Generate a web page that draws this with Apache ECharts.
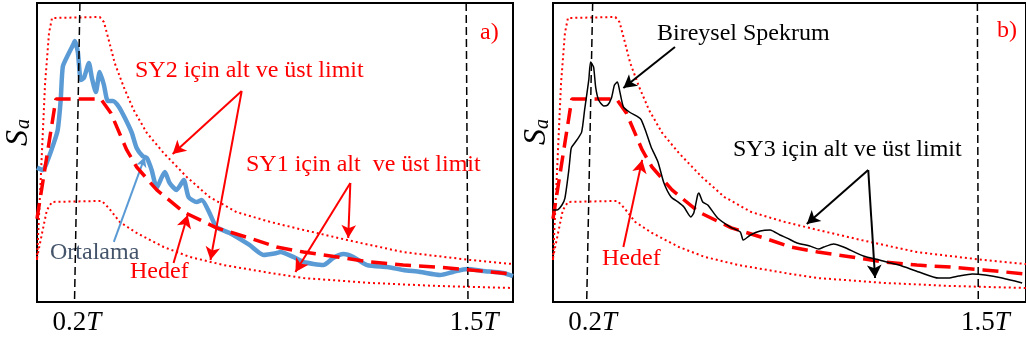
<!DOCTYPE html>
<html><head><meta charset="utf-8">
<script src="https://cdn.jsdelivr.net/npm/echarts@6/dist/echarts.min.js"></script>
<style>html,body{margin:0;padding:0;background:#fff}#c{width:1026px;height:342px}</style>
</head><body><div id="c"></div>
<script>
// Period axis in units of T, spectral acceleration normalised to the target plateau
const upperLimit = [[0.067,0.207],[0.094,1.079],[0.107,1.325],[0.117,1.399],[0.276,1.404],[0.290,1.379],[0.306,1.291],[0.326,1.177],[0.356,1.059],[0.389,0.946],[0.433,0.833],[0.489,0.734],[0.566,0.616],[0.642,0.517],[0.732,0.443],[0.845,0.394],[0.955,0.355],[1.101,0.305],[1.287,0.246],[1.510,0.207],[1.653,0.187]];
const lowerLimit = [[0.067,0.217],[0.084,0.340],[0.100,0.453],[0.117,0.493],[0.283,0.498],[0.306,0.463],[0.343,0.394],[0.399,0.340],[0.489,0.271],[0.576,0.222],[0.689,0.182],[0.865,0.138],[0.955,0.118],[1.177,0.094],[1.400,0.079],[1.653,0.069]];
const target = [[0.067,0.410],[0.130,1.0],[0.280,1.0],[0.313,0.931],[0.366,0.749],[0.399,0.665],[0.466,0.552],[0.556,0.443],[0.665,0.365],[0.775,0.315],[0.865,0.271],[0.955,0.246],[1.068,0.222],[1.177,0.197],[1.287,0.182],[1.400,0.172],[1.510,0.158],[1.653,0.138]];
const meanSpectrum = [[0.067,0.662],[0.087,0.650],[0.103,0.700],[0.123,0.783],[0.136,0.847],[0.146,0.995],[0.153,1.160],[0.170,1.217],[0.187,1.266],[0.193,1.286],[0.203,1.232],[0.213,1.094],[0.223,1.103],[0.240,1.177],[0.250,1.103],[0.263,1.034],[0.276,1.133],[0.290,1.069],[0.303,0.990],[0.320,0.990],[0.340,0.961],[0.360,0.906],[0.383,0.833],[0.399,0.759],[0.419,0.719],[0.433,0.709],[0.449,0.650],[0.466,0.562],[0.483,0.616],[0.493,0.640],[0.509,0.586],[0.532,0.552],[0.556,0.601],[0.572,0.517],[0.599,0.493],[0.616,0.502],[0.642,0.438],[0.665,0.369],[0.709,0.340],[0.775,0.281],[0.822,0.232],[0.865,0.241],[0.878,0.246],[0.921,0.222],[0.955,0.197],[1.021,0.182],[1.054,0.217],[1.088,0.236],[1.121,0.222],[1.167,0.182],[1.234,0.172],[1.287,0.158],[1.344,0.148],[1.410,0.133],[1.453,0.148],[1.500,0.163],[1.553,0.153],[1.620,0.143],[1.653,0.128]];
const individualSpectrum = [[0.067,0.453],[0.080,0.453],[0.097,0.478],[0.107,0.512],[0.120,0.650],[0.127,0.749],[0.130,0.764],[0.147,0.798],[0.163,0.837],[0.173,0.946],[0.187,1.094],[0.193,1.182],[0.203,1.158],[0.210,1.059],[0.220,0.995],[0.237,0.966],[0.250,0.970],[0.263,1.005],[0.273,1.069],[0.283,1.084],[0.290,1.044],[0.303,0.961],[0.323,0.936],[0.353,0.911],[0.363,0.897],[0.380,0.833],[0.396,0.764],[0.419,0.690],[0.439,0.586],[0.463,0.517],[0.486,0.493],[0.506,0.468],[0.529,0.419],[0.539,0.438],[0.552,0.527],[0.556,0.537],[0.569,0.493],[0.586,0.478],[0.619,0.414],[0.662,0.369],[0.695,0.345],[0.705,0.305],[0.729,0.330],[0.762,0.350],[0.795,0.355],[0.828,0.330],[0.852,0.315],[0.885,0.291],[0.928,0.276],[0.958,0.261],[0.975,0.271],[1.008,0.286],[1.041,0.271],[1.108,0.227],[1.161,0.207],[1.227,0.182],[1.294,0.148],[1.360,0.118],[1.393,0.118],[1.427,0.128],[1.473,0.138],[1.516,0.133],[1.573,0.118],[1.640,0.094]];
const tickValues = [0.2, 1.5];
const tickLabels = ['0.2', '1.5'];
// reference (dashed) period lines and annotation arrows, in data units
const refLinesA = [[[0.210,1.473],[0.192,0]],[[1.497,1.473],[1.503,0]]];
const refLinesB = [[[0.200,1.473],[0.180,0]],[[1.490,1.473],[1.493,0]]];
const redArrowsA = [[[0.749,1.039],[0.519,0.729]],[[0.749,1.039],[0.645,0.207]],[[1.111,0.586],[1.104,0.315]],[[1.111,0.586],[0.928,0.148]],[[0.522,0.192],[0.569,0.429]]];
const blueArrowsA = [[[0.323,0.296],[0.426,0.714]]];
const blackArrowsB = [[[0.476,1.256],[0.303,1.054]],[[1.124,0.650],[0.918,0.384]],[[1.124,0.650],[1.147,0.118]]];
const redArrowsB = [[[0.303,0.271],[0.366,0.700]]];

const X_MIN = 0.067, X_MAX = 1.653, Y_MAX = 1.473;
const SERIF = '"Liberation Serif", "Times New Roman", serif';
const RED = '#ff0000';

function pairs(list){ return list.map(p => [{coord:p[0]},{coord:p[1]}]); }

function xAxisCfg(idx, pad15){
  return {
    type:'value', gridIndex:idx, min:X_MIN, max:X_MAX,
    axisLine:{show:false}, axisTick:{show:false}, splitLine:{show:false},
    axisLabel:{
      customValues: tickValues, margin: 7,
      formatter: function(v){
        const i = tickValues.findIndex(t => Math.abs(t - v) < 1e-6);
        if (i < 0) return '';
        return (i === 1 ? '{m|' : '{n|') + tickLabels[i] + '}{t|T}';
      },
      rich:{
        n:{fontFamily:SERIF, fontSize:27, color:'#000', padding:[0,0,0,0]},
        m:{fontFamily:SERIF, fontSize:27, color:'#000', padding:[0,0,0,pad15]},
        t:{fontFamily:SERIF, fontSize:27, color:'#000', fontStyle:'italic'}
      }
    }
  };
}
function yAxisCfg(idx){
  return {type:'value', gridIndex:idx, min:0, max:Y_MAX,
    axisLine:{show:false}, axisTick:{show:false}, splitLine:{show:false}, axisLabel:{show:false}};
}
const dotted = {color:RED, width:2, type:[2,3]};
const dashedRed = {color:RED, width:3.5, type:[16,8]};
function refMark(list){
  return {silent:true, symbol:'none', label:{show:false}, animation:false,
    lineStyle:{color:'#000', width:1.5, type:[8,4]}, data:pairs(list)};
}
function arrowMark(list, color, size){
  return {silent:true, symbol:['none','arrow'], symbolSize:size, label:{show:false}, animation:false,
    lineStyle:{color:color, width:2, type:'solid'}, data:pairs(list)};
}
function lineSeries(name, data, idx, style, z, extra){
  return Object.assign({name, type:'line', xAxisIndex:idx, yAxisIndex:idx, data, showSymbol:false,
    symbol:'none', lineStyle:style, z:z, clip:true}, extra||{});
}

function txt(text, x, y, color, size){
  return {type:'text', x:x, y:y, silent:true,
    style:{text:text, fill:color, fontFamily:SERIF, fontSize:size||24, align:'left', verticalAlign:'middle'}};
}
function rotTxt(text, x, y, size){
  return {type:'text', x:x, y:y, rotation:Math.PI/2, silent:true,
    style:{text:text, fill:'#000', fontFamily:SERIF, fontSize:size, fontStyle:'italic', align:'center', verticalAlign:'middle'}};
}

const chart = echarts.init(document.getElementById('c'), null, {renderer:'canvas'});
chart.setOption({
  animation:false,
  backgroundColor:'#fff',
  grid:[
    {left:37, right:513, top:3, bottom:40, show:true, borderColor:'#000', borderWidth:2, backgroundColor:'transparent'},
    {left:553, right:-5, top:3, bottom:40, show:true, borderColor:'#000', borderWidth:2, backgroundColor:'transparent'}
  ],
  xAxis:[xAxisCfg(0,14), xAxisCfg(1,10)],
  yAxis:[yAxisCfg(0), yAxisCfg(1)],
  series:[
    lineSeries('SY2 üst limit', upperLimit, 0, dotted, 3, {markLine:refMark(refLinesA)}),
    lineSeries('SY1 alt limit', lowerLimit, 0, dotted, 3),
    lineSeries('Ortalama', meanSpectrum, 0, {color:'#5b9bd5', width:4.5}, 4, {smooth:0.2, markLine:arrowMark(blueArrowsA,'#5b9bd5',[8,10])}),
    lineSeries('Hedef', target, 0, dashedRed, 5, {markLine:arrowMark(redArrowsA, RED, [11,13])}),
    lineSeries('SY3 üst limit', upperLimit, 1, dotted, 3, {markLine:refMark(refLinesB)}),
    lineSeries('SY3 alt limit', lowerLimit, 1, dotted, 3),
    lineSeries('Hedef b', target, 1, dashedRed, 4, {markLine:arrowMark(redArrowsB, RED, [11,13])}),
    lineSeries('Bireysel Spekrum', individualSpectrum, 1, {color:'#000', width:1.5}, 5, {smooth:0.2, markLine:arrowMark(blackArrowsB,'#000',[11,13])})
  ],
  graphic:[
    txt('a)', 480, 33, RED),
    txt('SY2 için alt ve üst limit', 135, 71, RED),
    txt('SY1 için alt  ve üst limit', 246, 165, RED),
    txt('Ortalama', 50, 253, '#44546a'),
    txt('Hedef', 130, 272, RED),
    txt('b)', 997, 31, RED),
    txt('Bireysel Spekrum', 657, 34, '#000'),
    txt('SY3 için alt ve üst limit', 733, 150, '#000'),
    txt('Hedef', 602, 259, RED),
    rotTxt('S', 19, 138, 32),
    rotTxt('a', 24, 124, 20),
    rotTxt('S', 537, 137, 32),
    rotTxt('a', 543, 124, 20)
  ]
});
</script>
</body></html>
